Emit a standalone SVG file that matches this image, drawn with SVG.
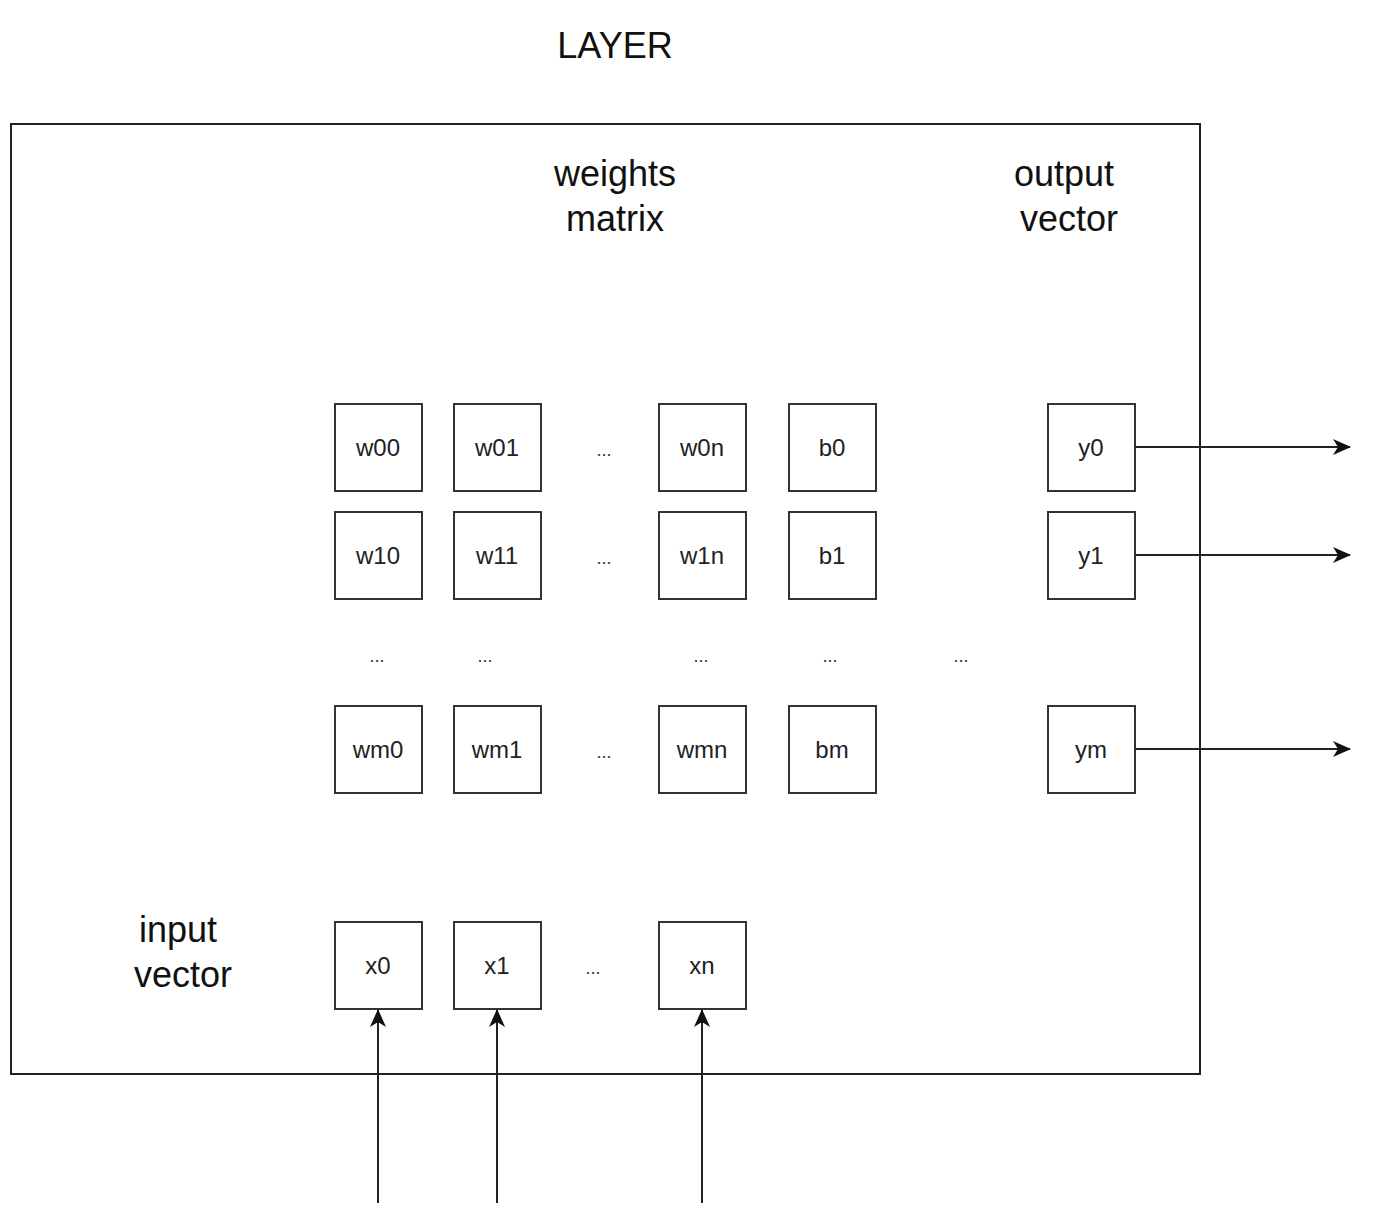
<svg xmlns="http://www.w3.org/2000/svg" width="1390" height="1232" viewBox="0 0 1390 1232">
<style>
.cell{fill:#fff;stroke:#333;stroke-width:2}
.lbl{font-family:"Liberation Sans",Arial,sans-serif;font-size:24px;fill:#222;text-anchor:middle}
.hdr{font-family:"Liberation Sans",Arial,sans-serif;font-size:36px;fill:#111;text-anchor:middle}
.dots{font-family:"Liberation Sans",Arial,sans-serif;font-size:18px;fill:#333;text-anchor:middle}
.conn{stroke:#222;stroke-width:2;fill:none;marker-end:url(#ah)}
</style>
<defs>
<marker id="ah" viewBox="0 0 18 16" refX="17" refY="8" markerWidth="18" markerHeight="16" markerUnits="userSpaceOnUse" orient="auto">
<path d="M0,0 L18,8 L0,16 L5,8 Z" fill="#111"/>
</marker>
</defs>
<rect width="1390" height="1232" fill="#fff"/>
<text class="hdr" x="615" y="58">LAYER</text>
<g id="layer"><rect x="11" y="124" width="1189" height="950" fill="none" stroke="#222" stroke-width="2"/></g>
<text class="hdr" x="615" y="186">weights</text>
<text class="hdr" x="615" y="231">matrix</text>
<text class="hdr" x="1064" y="186">output</text>
<text class="hdr" x="1069" y="231">vector</text>
<text class="hdr" x="178" y="942">input</text>
<text class="hdr" x="183" y="987">vector</text>

<g id="w00"><rect class="cell" x="335" y="404" width="87" height="87"/><text class="lbl" x="378" y="456">w00</text></g>
<g id="w01"><rect class="cell" x="454" y="404" width="87" height="87"/><text class="lbl" x="497" y="456">w01</text></g>
<g id="w0n"><rect class="cell" x="659" y="404" width="87" height="87"/><text class="lbl" x="702" y="456">w0n</text></g>
<g id="b0"><rect class="cell" x="789" y="404" width="87" height="87"/><text class="lbl" x="832" y="456">b0</text></g>
<g id="y0"><rect class="cell" x="1048" y="404" width="87" height="87"/><text class="lbl" x="1091" y="456">y0</text></g>

<g id="w10"><rect class="cell" x="335" y="512" width="87" height="87"/><text class="lbl" x="378" y="564">w10</text></g>
<g id="w11"><rect class="cell" x="454" y="512" width="87" height="87"/><text class="lbl" x="497" y="564">w11</text></g>
<g id="w1n"><rect class="cell" x="659" y="512" width="87" height="87"/><text class="lbl" x="702" y="564">w1n</text></g>
<g id="b1"><rect class="cell" x="789" y="512" width="87" height="87"/><text class="lbl" x="832" y="564">b1</text></g>
<g id="y1"><rect class="cell" x="1048" y="512" width="87" height="87"/><text class="lbl" x="1091" y="564">y1</text></g>

<g id="wm0"><rect class="cell" x="335" y="706" width="87" height="87"/><text class="lbl" x="378" y="758">wm0</text></g>
<g id="wm1"><rect class="cell" x="454" y="706" width="87" height="87"/><text class="lbl" x="497" y="758">wm1</text></g>
<g id="wmn"><rect class="cell" x="659" y="706" width="87" height="87"/><text class="lbl" x="702" y="758">wmn</text></g>
<g id="bm"><rect class="cell" x="789" y="706" width="87" height="87"/><text class="lbl" x="832" y="758">bm</text></g>
<g id="ym"><rect class="cell" x="1048" y="706" width="87" height="87"/><text class="lbl" x="1091" y="758">ym</text></g>

<g id="x0"><rect class="cell" x="335" y="922" width="87" height="87"/><text class="lbl" x="378" y="974">x0</text></g>
<g id="x1"><rect class="cell" x="454" y="922" width="87" height="87"/><text class="lbl" x="497" y="974">x1</text></g>
<g id="xn"><rect class="cell" x="659" y="922" width="87" height="87"/><text class="lbl" x="702" y="974">xn</text></g>

<g id="ellipses">
<text class="dots" x="604" y="456">...</text>
<text class="dots" x="604" y="564">...</text>
<text class="dots" x="604" y="758">...</text>
<text class="dots" x="593" y="974">...</text>
<text class="dots" x="377" y="662">...</text>
<text class="dots" x="485" y="662">...</text>
<text class="dots" x="701" y="662">...</text>
<text class="dots" x="830" y="662">...</text>
<text class="dots" x="961" y="662">...</text>
</g>

<g id="connectors">
<line class="conn" x1="1135" y1="447" x2="1350" y2="447"/>
<line class="conn" x1="1135" y1="555" x2="1350" y2="555"/>
<line class="conn" x1="1135" y1="749" x2="1350" y2="749"/>
<line class="conn" x1="378" y1="1203" x2="378" y2="1010"/>
<line class="conn" x1="497" y1="1203" x2="497" y2="1010"/>
<line class="conn" x1="702" y1="1203" x2="702" y2="1010"/>
</g>
</svg>
